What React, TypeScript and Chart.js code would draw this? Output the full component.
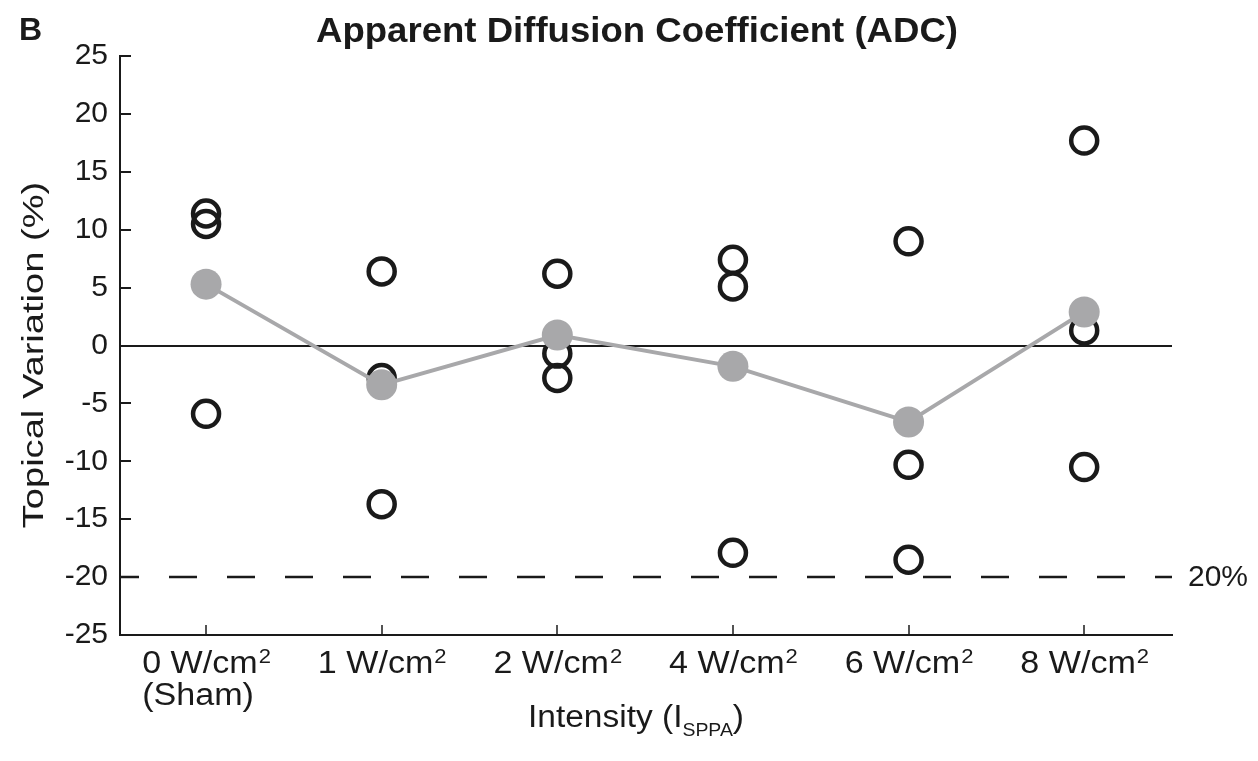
import React, { useEffect, useRef } from "react";
import { Chart, registerables } from "chart.js";

Chart.register(...registerables);

// ---- data ----
const categories = ["0 W/cm²", "1 W/cm²", "2 W/cm²", "4 W/cm²", "6 W/cm²", "8 W/cm²"];
const categorySecondLines = ["(Sham)", "", "", "", "", ""];
const categoryIndex = [0, 1, 2, 3, 4, 5];
const shamValues = [11.4, 10.5, -5.9];
const w1Values = [6.4, -2.8, -13.7];
const w2Values = [6.2, -0.7, -2.8];
const w4Values = [7.4, 5.1, -17.9];
const w6Values = [9.0, -10.3, -18.5];
const w8Values = [17.7, 1.3, -10.5];
const meanValues = [5.3, -3.4, 0.9, -1.8, -6.6, 2.9];
const yTickValues = [25, 20, 15, 10, 5, 0, -5, -10, -15, -20, -25];
const thresholdValue = -20;
const thresholdLabel = "20%";
const titleText = "Apparent Diffusion Coefficient (ADC)";
const panelLabel = "B";
const yAxisTitle = "Topical Variation (%)";
const xAxisTitleMain = "Intensity (I";
const xAxisTitleSub = "SPPA";
const xAxisTitleEnd = ")";

const FONT = "'Liberation Sans', Arial, Helvetica, sans-serif";
const INK = "#1a1a1a";
const GREY = "#a8a8aa";

const groups = [shamValues, w1Values, w2Values, w4Values, w6Values, w8Values];

function stretchedText(
  ctx: CanvasRenderingContext2D,
  text: string,
  x: number,
  y: number,
  sx: number
) {
  ctx.save();
  ctx.translate(x, y);
  ctx.scale(sx, 1);
  ctx.fillText(text, 0, 0);
  ctx.restore();
}

const overlayPlugin = {
  id: "overlay",
  beforeDatasetsDraw(chart: any) {
    const { ctx, chartArea, scales } = chart;
    const x = scales.x;
    const y = scales.y;
    ctx.save();
    // zero line
    ctx.strokeStyle = INK;
    ctx.lineWidth = 2;
    const y0 = Math.round(y.getPixelForValue(0));
    ctx.beginPath();
    ctx.moveTo(chartArea.left, y0);
    ctx.lineTo(chartArea.right, y0);
    ctx.stroke();
    // threshold dashed line
    const yt = Math.round(y.getPixelForValue(thresholdValue));
    ctx.setLineDash([28, 30]);
    ctx.lineDashOffset = 9;
    ctx.lineWidth = 2.5;
    ctx.beginPath();
    ctx.moveTo(chartArea.left, yt);
    ctx.lineTo(chartArea.right, yt);
    ctx.stroke();
    ctx.setLineDash([]);
    // inward ticks
    ctx.lineWidth = 2;
    yTickValues.forEach((v) => {
      const py = Math.round(y.getPixelForValue(v));
      ctx.beginPath();
      ctx.moveTo(chartArea.left, py);
      ctx.lineTo(chartArea.left + 11, py);
      ctx.stroke();
    });
    ctx.lineWidth = 1.5;
    categoryIndex.forEach((v) => {
      const px = Math.round(x.getPixelForValue(v));
      ctx.beginPath();
      ctx.moveTo(px, chartArea.bottom);
      ctx.lineTo(px, chartArea.bottom - 10);
      ctx.stroke();
    });
    ctx.restore();
  },
  afterDraw(chart: any) {
    const { ctx, chartArea, scales } = chart;
    const x = scales.x;
    const y = scales.y;
    ctx.save();
    ctx.fillStyle = INK;
    ctx.textBaseline = "alphabetic";
    ctx.textAlign = "left";

    // panel label
    ctx.font = `bold 32px ${FONT}`;
    ctx.fillText(panelLabel, 19, 40);

    // title
    const titleSx = 1.045;
    ctx.font = `bold 35px ${FONT}`;
    const tw = ctx.measureText(titleText).width * titleSx;
    stretchedText(ctx, titleText, 637 - tw / 2, 42, titleSx);

    // threshold label
    ctx.font = `30px ${FONT}`;
    ctx.textBaseline = "middle";
    ctx.fillText(thresholdLabel, chartArea.right + 16, y.getPixelForValue(thresholdValue) + 1);
    ctx.textBaseline = "alphabetic";

    // x category labels with superscript
    const labSx = 1.1;
    const mainSize = 31;
    const supSize = 20;
    const base1 = chartArea.bottom + 38;
    const base2 = base1 + 32;
    categoryIndex.forEach((v, i) => {
      const px = x.getPixelForValue(v);
      const parts = categories[i].split("²");
      const mainTxt = parts[0];
      ctx.font = `${mainSize}px ${FONT}`;
      const wMain = ctx.measureText(mainTxt).width * labSx;
      ctx.font = `${supSize}px ${FONT}`;
      const wSup = ctx.measureText("2").width * labSx;
      const w1 = wMain + wSup;
      const second = categorySecondLines[i];
      ctx.font = `${mainSize}px ${FONT}`;
      const w2 = second ? ctx.measureText(second).width * labSx : 0;
      const blockW = Math.max(w1, w2);
      const left = px - blockW / 2;
      ctx.font = `${mainSize}px ${FONT}`;
      stretchedText(ctx, mainTxt, left, base1, labSx);
      ctx.font = `${supSize}px ${FONT}`;
      stretchedText(ctx, "2", left + wMain + 1, base1 - 10, labSx);
      if (second) {
        ctx.font = `${mainSize}px ${FONT}`;
        stretchedText(ctx, second, left, base2, labSx);
      }
    });

    // y axis title (stretched along its direction)
    ctx.save();
    ctx.font = `30px ${FONT}`;
    const ySx = 1.27;
    const yw = ctx.measureText(yAxisTitle).width * ySx;
    ctx.translate(43, 355);
    ctx.rotate(-Math.PI / 2);
    ctx.scale(ySx, 1);
    ctx.fillText(yAxisTitle, -yw / ySx / 2, 0);
    ctx.restore();

    // x axis title with subscript
    const xSx = 1.08;
    ctx.font = `31px ${FONT}`;
    const wM = ctx.measureText(xAxisTitleMain).width * xSx;
    const wE = ctx.measureText(xAxisTitleEnd).width * xSx;
    ctx.font = `18px ${FONT}`;
    const wS = ctx.measureText(xAxisTitleSub).width * xSx;
    const total = wM + wS + wE;
    let cx = 636 - total / 2;
    const base = 727;
    ctx.font = `31px ${FONT}`;
    stretchedText(ctx, xAxisTitleMain, cx, base, xSx);
    cx += wM;
    ctx.font = `18px ${FONT}`;
    stretchedText(ctx, xAxisTitleSub, cx, base + 9, xSx);
    cx += wS;
    ctx.font = `31px ${FONT}`;
    stretchedText(ctx, xAxisTitleEnd, cx, base, xSx);
    ctx.restore();
  },
};

export default function App() {
  const canvasRef = useRef<HTMLCanvasElement | null>(null);

  useEffect(() => {
    const canvas = canvasRef.current;
    if (!canvas) return;
    const individualPoints = groups.flatMap((vals, i) =>
      vals.map((v) => ({ x: categoryIndex[i], y: v }))
    );
    const meanPoints = meanValues.map((v, i) => ({ x: categoryIndex[i], y: v }));

    const chart = new Chart(canvas, {
      type: "scatter",
      data: {
        datasets: [
          {
            label: "Mean",
            type: "line",
            data: meanPoints,
            borderColor: GREY,
            borderWidth: 4,
            backgroundColor: GREY,
            pointBackgroundColor: GREY,
            pointBorderColor: GREY,
            pointBorderWidth: 0,
            pointRadius: 15.5,
            showLine: true,
            fill: false,
            order: 0,
          } as any,
          {
            label: "Individual",
            data: individualPoints,
            pointStyle: "circle",
            pointRadius: 13,
            borderWidth: 4.5,
            borderColor: INK,
            backgroundColor: "rgba(0,0,0,0)",
            order: 1,
          },
        ],
      },
      options: {
        animation: false,
        responsive: true,
        maintainAspectRatio: false,
        layout: { padding: { left: 0, top: 56, right: 86, bottom: 0 } },
        plugins: {
          legend: { display: false },
          tooltip: { enabled: false },
          title: { display: false },
        },
        scales: {
          x: {
            type: "linear",
            min: -0.49,
            max: 5.5,
            afterBuildTicks: (scale: any) => {
              scale.ticks = categoryIndex.map((v) => ({ value: v }));
            },
            afterFit: (scale: any) => {
              scale.height = 126;
            },
            ticks: { display: false },
            grid: { display: false, drawTicks: false },
            border: { display: true, color: INK, width: 2 },
          },
          y: {
            type: "linear",
            min: -25,
            max: 25,
            afterBuildTicks: (scale: any) => {
              scale.ticks = yTickValues.map((v) => ({ value: v }));
            },
            afterFit: (scale: any) => {
              scale.width = 120;
            },
            ticks: {
              padding: 12,
              color: INK,
              font: { size: 30, family: FONT },
            },
            grid: { display: false, drawTicks: false },
            border: { display: true, color: INK, width: 2 },
          },
        },
      },
      plugins: [overlayPlugin],
    });
    return () => chart.destroy();
  }, []);

  return (
    <div style={{ position: "fixed", left: 0, top: 0, width: 1258, height: 761, background: "#fff" }}>
      <canvas ref={canvasRef} />
    </div>
  );
}
